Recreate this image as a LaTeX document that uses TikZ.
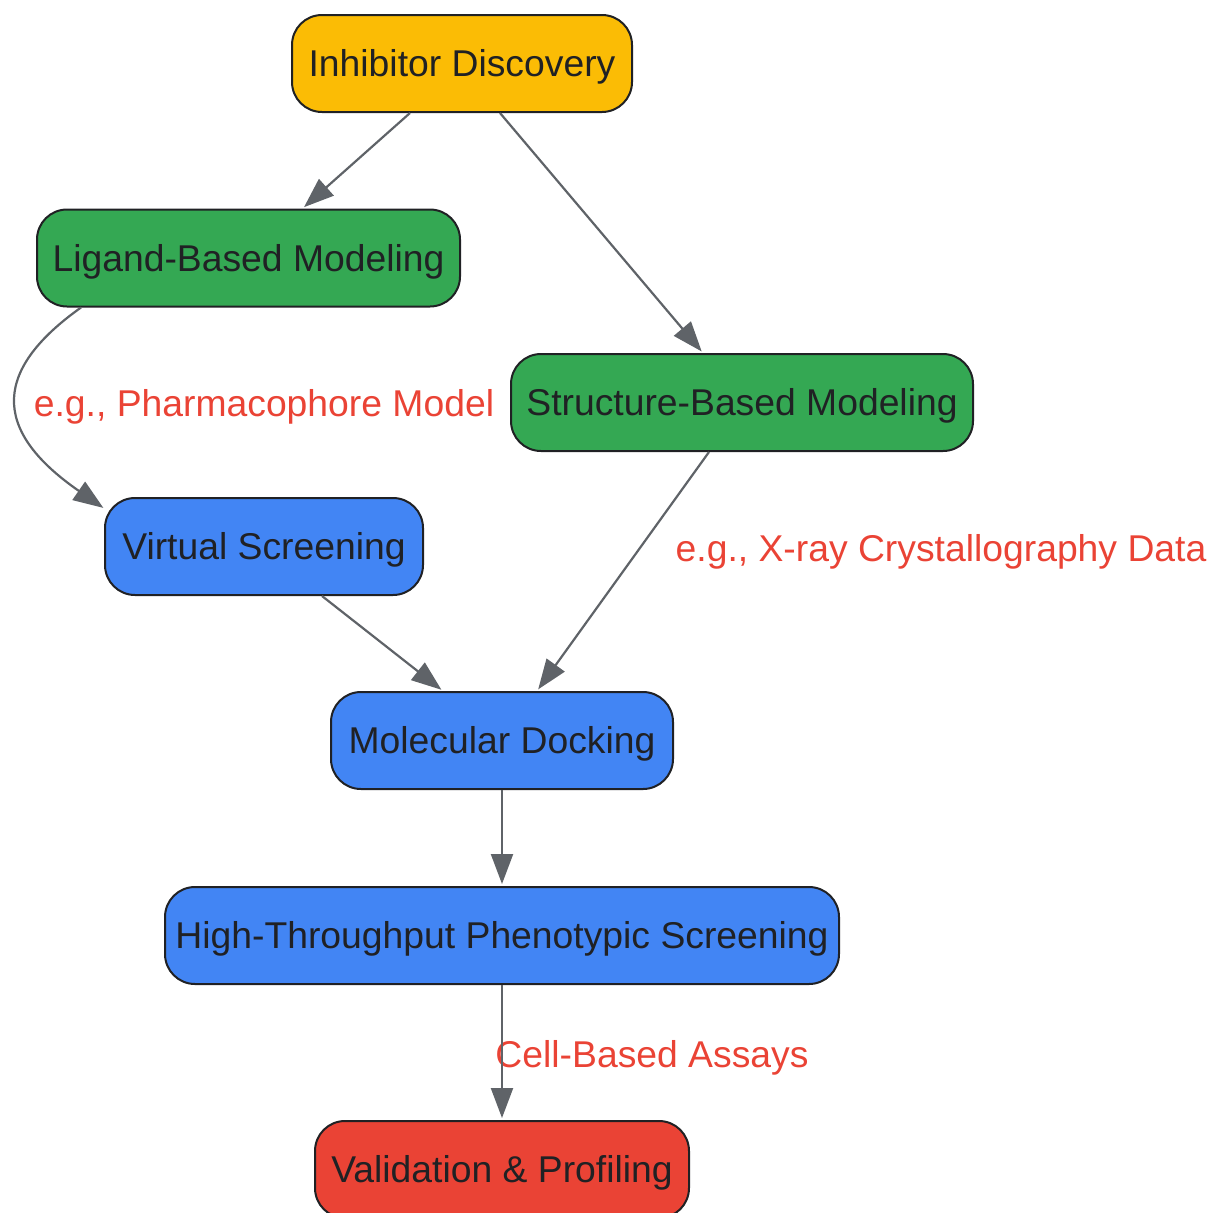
\documentclass[tikz,border=0pt]{standalone}
\usepackage{fontspec}
\setmainfont{Liberation Sans}
\usetikzlibrary{arrows.meta}
\definecolor{cyellow}{HTML}{FBBC05}
\definecolor{cgreen}{HTML}{34A853}
\definecolor{cblue}{HTML}{4285F4}
\definecolor{cred}{HTML}{EA4335}
\definecolor{cedge}{HTML}{5F6368}
\definecolor{ctext}{HTML}{202124}
\begin{document}
\begin{tikzpicture}[x=1pt,y=-1pt,
  box/.style={draw=ctext,line width=2pt,rounded corners=30pt,inner sep=0pt,
    minimum height=97pt,text=ctext,text height=26.7pt,text depth=0pt,
    font=\fontsize{37.3}{44}\selectfont},
  lbl/.style={text=cred,inner sep=0pt,text height=26.7pt,text depth=0pt,
    font=\fontsize{37.3}{44}\selectfont},
  edge/.style={draw=cedge,line width=2.2pt,shorten >=2pt,
    -{Triangle[length=30pt,width=22pt]}}]
\useasboundingbox (0,0) rectangle (1210,1213);
\node[box,fill=cyellow,minimum width=340pt] (inh) at (462,63.5) {Inhibitor Discovery};
\node[box,fill=cgreen,minimum width=423pt] (lig) at (248.5,258) {Ligand-Based Modeling};
\node[box,fill=cgreen,minimum width=462pt] (str) at (742,402.5) {Structure-Based Modeling};
\node[box,fill=cblue,minimum width=318pt] (vs) at (264,546.5) {Virtual Screening};
\node[box,fill=cblue,minimum width=342pt] (dock) at (502,740.5) {Molecular Docking};
\node[box,fill=cblue,minimum width=674pt] (hts) at (502,935.5) {High-Throughput Phenotypic Screening};
\node[box,fill=cred,minimum width=374pt] (val) at (502,1169.5) {Validation \& Profiling};
\node[lbl] (l1) at (264,403.3) {e.g., Pharmacophore Model};
\node[lbl] (l2) at (941,548.3) {e.g., X-ray Crystallography Data};
\node[lbl] (l3) at (652,1053.7) {Cell-Based Assays};
\draw[edge] ([xshift=-52pt]inh.south) -- ([xshift=54pt]lig.north);
\draw[edge] ([xshift=38pt]inh.south) -- ([xshift=-39pt]str.north);
\draw[edge] ([xshift=45pt]lig.south west) .. controls (-4,368) and (-12,428) .. ([xshift=1pt,yshift=-12pt]vs.north west);
\draw[edge] ([xshift=-33pt]str.south) -- ([xshift=35pt]dock.north);
\draw[edge] ([xshift=58pt]vs.south) -- ([xshift=-59pt]dock.north);
\draw[edge] (dock.south) -- (hts.north);
\draw[edge] (hts.south) -- (val.north);
\end{tikzpicture}
\end{document}
